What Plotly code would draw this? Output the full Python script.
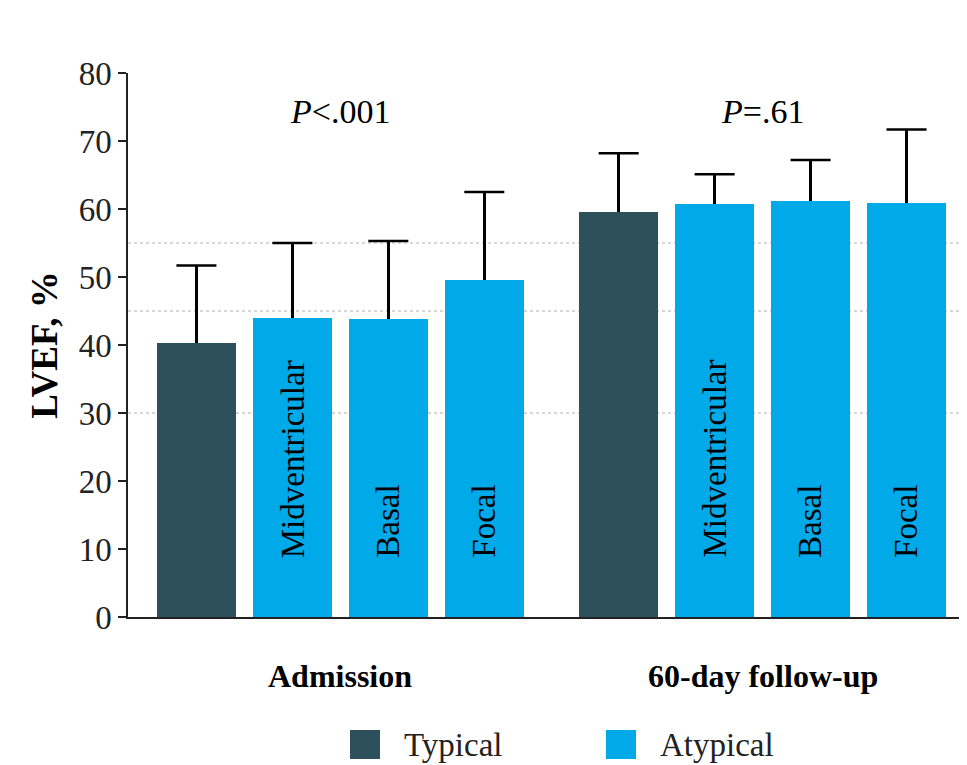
import plotly.graph_objects as go

# ---- data ----
groups = ["Admission", "60-day follow-up"]
subtypes = ["Typical", "Midventricular", "Basal", "Focal"]
inside_labels = ["", "Midventricular", "Basal", "Focal"]
lvef_admission = [40.3, 44.0, 43.8, 49.5]
sd_admission = [11.4, 11.0, 11.5, 13.0]
lvef_followup = [59.5, 60.7, 61.2, 60.9]
sd_followup = [8.7, 4.4, 6.0, 10.8]
p_values = ["<i>P</i><.001", "<i>P</i>=.61"]
ref_lines = [30, 45, 55]
y_ticks = [0, 10, 20, 30, 40, 50, 60, 70, 80]
legend_names = ["Typical", "Atypical"]

C_TYP = "#2E505C"
C_ATY = "#00AAE9"
FONT = "Liberation Serif"

values = [lvef_admission, lvef_followup]
sds = [sd_admission, sd_followup]
GROUP_STEP = 4.4

fig = go.Figure()
all_x, all_y, all_e, all_c = [], [], [], []
for gi, g in enumerate(groups):
    for bi, s in enumerate(subtypes):
        all_x.append(gi * GROUP_STEP + bi)
        all_y.append(values[gi][bi])
        all_e.append(sds[gi][bi])
        all_c.append(C_TYP if bi == 0 else C_ATY)

# bars with upper error stems (no caps)
fig.add_trace(go.Bar(
    x=all_x, y=all_y, width=0.823,
    marker=dict(color=all_c, line=dict(width=0)),
    error_y=dict(type="data", array=all_e, arrayminus=[0] * len(all_e),
                 symmetric=False, color="black", thickness=2.5, width=0),
    showlegend=False, hoverinfo="skip",
))
# error-bar hats (top only)
fig.add_trace(go.Scatter(
    x=all_x, y=[v + e for v, e in zip(all_y, all_e)], mode="markers",
    marker=dict(symbol="line-ew", size=28.6, color="black",
                line=dict(color="black", width=2.5)),
    showlegend=False, hoverinfo="skip",
))

# reference lines
for r in ref_lines:
    fig.add_shape(type="line", xref="paper", x0=0, x1=1, yref="y", y0=r, y1=r,
                  line=dict(color="#B0B0B0", width=1.2, dash="dot"), layer="below")

annotations = []
# inside bar labels
for gi in range(len(groups)):
    for bi, lab in enumerate(inside_labels):
        if lab:
            annotations.append(dict(x=gi * GROUP_STEP + bi, y=8.4, xref="x", yref="y",
                                    text=lab, textangle=-90, showarrow=False,
                                    xanchor="center", yanchor="bottom",
                                    font=dict(family=FONT, size=33, color="black")))
# p-values
p_x = [1.5, GROUP_STEP + 1.5]
for px, pt in zip(p_x, p_values):
    annotations.append(dict(x=px, y=74.3, xref="x", yref="y", text=pt, showarrow=False,
                            xanchor="center", yanchor="middle",
                            font=dict(family=FONT, size=34, color="black")))
# group labels
for gi, g in enumerate(groups):
    annotations.append(dict(x=gi * GROUP_STEP + 1.5, y=-0.108, xref="x", yref="paper",
                            text="<b>%s</b>" % g, showarrow=False,
                            xanchor="center", yanchor="middle",
                            font=dict(family=FONT, size=32, color="black")))

# manual legend
leg_sq_x = [350, 606]
leg_cols = [C_TYP, C_ATY]
W = 839.0
H = 544.0
for lx, name, col in zip(leg_sq_x, legend_names, leg_cols):
    x0 = (lx - 128) / W
    x1 = (lx + 30 - 128) / W
    fig.add_shape(type="rect", xref="paper", yref="paper", x0=x0, x1=x1,
                  y0=(617 - 759) / H, y1=(617 - 730) / H,
                  fillcolor=col, line=dict(width=0))
    annotations.append(dict(x=(lx + 52 - 128) / W, y=(617 - 745) / H, xref="paper", yref="paper",
                            text=name, showarrow=False, xanchor="left", yanchor="middle",
                            font=dict(family=FONT, size=33, color="#222222")))

fig.update_layout(
    width=959, height=757,
    margin=dict(l=120, r=0, t=65, b=148),
    plot_bgcolor="white", paper_bgcolor="white",
    font=dict(family=FONT, color="#222222"),
    annotations=annotations,
    bargap=0,
)
fig.update_xaxes(range=[-0.713, 8.03], showgrid=False, zeroline=False,
                 showticklabels=False, ticks="", showline=True,
                 linecolor="#222222", linewidth=1.5)
fig.update_yaxes(range=[0, 80], tickvals=y_ticks, showgrid=False, zeroline=False,
                 showline=True, linecolor="#222222", linewidth=1.5,
                 ticks="outside", ticklen=8, tickwidth=1.5, tickcolor="#222222",
                 tickfont=dict(family=FONT, size=33, color="#222222"),
                 title=dict(text="<b>LVEF, %</b>", standoff=10,
                            font=dict(family=FONT, size=37, color="black")))

fig.write_html("out.html")
